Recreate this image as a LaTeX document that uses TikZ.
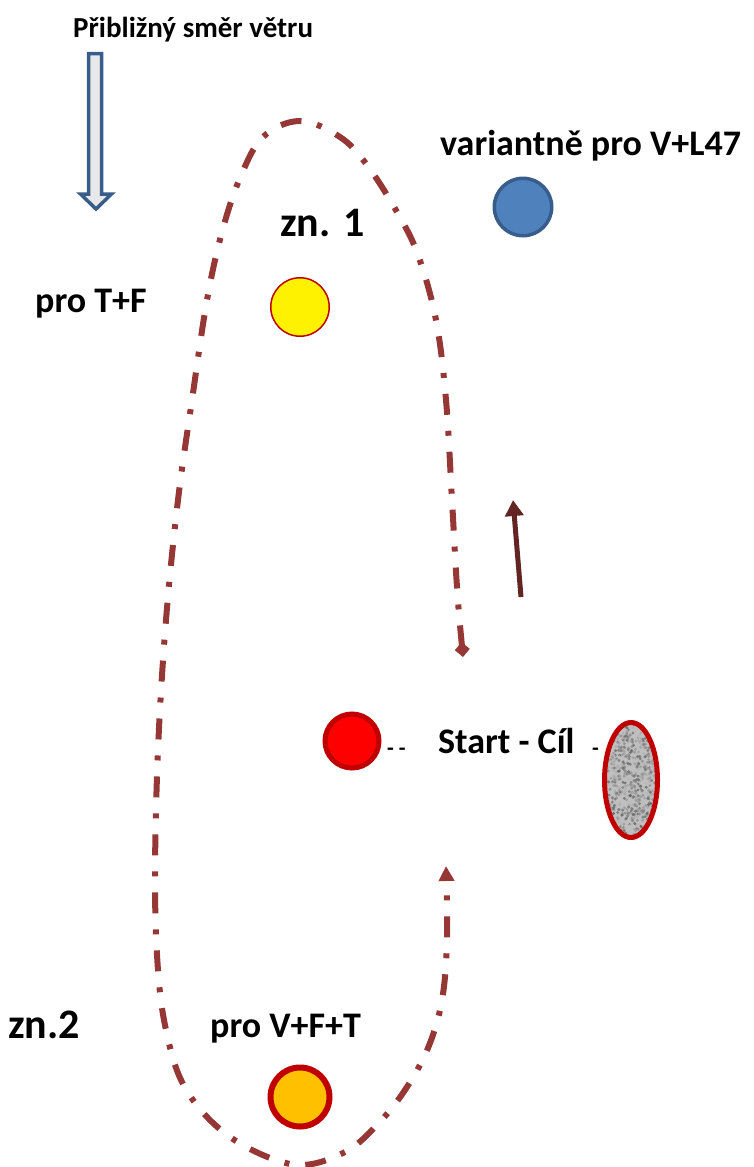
\documentclass[tikz,border=0pt]{standalone}
\usepackage{fontspec}
\setmainfont{Carlito}
\usetikzlibrary{arrows.meta,shapes.geometric}

\definecolor{routered}{HTML}{953735}
\definecolor{driftred}{HTML}{632523}
\definecolor{rimred}{HTML}{C00000}
\definecolor{windblue}{HTML}{385D8A}
\definecolor{buoyblue}{HTML}{4F81BD}
\definecolor{buoyorange}{HTML}{FFC000}

\tikzset{
  lbl/.style={anchor=base west, inner sep=0pt, font=\bfseries\fontsize{36}{40}\selectfont},
  biglbl/.style={lbl, font=\bfseries\fontsize{42}{46}\selectfont},
  buoy/.style={circle, inner sep=0pt, minimum size=#1},
  routeline/.style={routered, line width=6pt, dash pattern=on 21pt off 16pt on 5pt off 16pt}
}

\begin{document}
\begin{tikzpicture}[x=1pt,y=-1pt]
\useasboundingbox (0,0) rectangle (753,1167);

% wind:
\node[lbl, font=\bfseries\fontsize{29}{32}\selectfont] (windtext) at (73,37) {Přibližný směr větru};
\draw[windblue, line width=3.5pt, fill=gray!18, line join=miter]
  (88.5,53.5) -- (101.5,53.5) -- (101.5,194) -- (111.5,194) -- (96,209)
  -- (80.5,194) -- (88.5,194) -- cycle;

% marks:
\node[buoy=57.5pt, draw=windblue, line width=3.5pt, fill=buoyblue] (varbuoy) at (523,207) {};
\node[buoy=58.5pt, draw=rimred, line width=1.5pt, fill=yellow] (buoy1) at (300,307) {};
\node[buoy=59pt, draw=rimred, line width=6pt, fill=buoyorange] (buoy2) at (300,1097) {};
\node[buoy=54pt, draw=rimred, line width=5pt, fill=red] (startbuoy) at (352,741) {};
\node[ellipse, inner sep=0pt, minimum width=53pt, minimum height=115pt, fill=gray!50,
  path picture={
    \pgfmathsetseed{11}
    \foreach \k in {1,...,900}{
      \pgfmathsetmacro\px{60*rnd}
      \pgfmathsetmacro\py{120*rnd}
      \pgfmathsetmacro\sh{20+50*rnd}
      \fill[black!\sh, opacity=0.6] ([shift={(\px pt,\py pt)}]path picture bounding box.south west) circle (1.6pt);
    }
  }] (finish) at (631,780) {};
\draw[rimred, line width=5pt] (finish.center) ellipse [x radius=26.5pt, y radius=57.5pt];

% texts:
\node[lbl] (vartext) at (440,155) {variantně pro V+L47};
\node[biglbl] (zn1) at (280,236) {zn. 1};
\node[lbl] (tftext) at (35,312) {pro T+F};
\node[lbl] (sctext) at (438,753) {Start - Cíl};
\node[lbl, font=\bfseries\fontsize{22}{24}\selectfont] (dashl) at (387,755) {- -};
\node[lbl, font=\bfseries\fontsize{22}{24}\selectfont] (dashr) at (592,755) {-};
\node[biglbl] (zn2) at (8,1038) {zn.2};
\node[lbl] (vfttext) at (210,1037) {pro V+F+T};

% route:
\coordinate (routebeg) at (463,657);
\coordinate (routeend) at (446,866);
\draw[routeline, {Diamond[length=15pt,width=15pt]}-{Triangle[length=15pt,width=15pt]}]
  plot[smooth, tension=0.6] coordinates {(routebeg) (457,587) (452,500) (446,400) (436,320)
  (418,255) (397,212) (367,165) (340,137) (300,121) (263,137) (240,178) (222,232)
  (207,300) (192,400) (178,500) (166,620) (158,750) (155,880) (158,970) (166,1030)
  (182,1082) (212,1122) (252,1150) (300,1165) (345,1152) (377,1125) (405,1090)
  (428,1048) (442,1000) (447,940) (routeend)};

% drift:
\coordinate (drifttail) at (521,597);
\coordinate (drifthead) at (513,500);
\draw[driftred, line width=5pt, -{Triangle[length=16pt,width=18pt]}] (drifttail) -- (drifthead);

\end{tikzpicture}
\end{document}
